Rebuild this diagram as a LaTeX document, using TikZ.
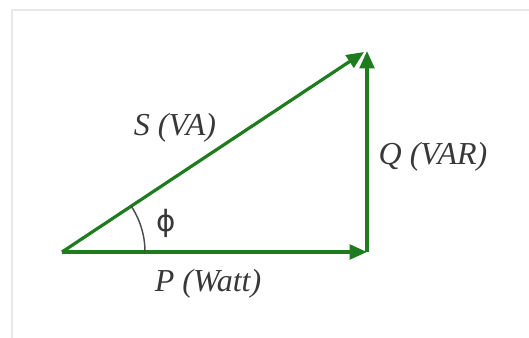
\documentclass[tikz,border=0pt]{standalone}
\usepackage{fontspec}
\setmainfont{Liberation Serif}
\newfontfamily\phifont{DejaVu Sans}
\usetikzlibrary{calc,arrows.meta,positioning}
\definecolor{vecgreen}{HTML}{1E7B1E}
\definecolor{labelgray}{HTML}{383838}
\definecolor{framegray}{HTML}{E8E8E8}
\begin{document}
\begin{tikzpicture}[
  x=0.75pt, y=0.75pt,
  vector/.style={draw=vecgreen, line width=2.4pt, -{Triangle[length=13pt, width=11pt]}},
  powerlabel/.style={font=\itshape\fontsize{24}{28}\selectfont, text=labelgray, inner sep=1pt},
  anglearc/.style={draw=labelgray!90, line width=1.1pt}
]
  \useasboundingbox (0,0) rectangle (529,338);

  % Frame
  \draw[framegray, line width=1.2pt] (12,0) -- (12,328) -- (529,328);

  % Triangle corners
  \coordinate (origin) at (62,86);
  \coordinate (pend) at (367,86);
  \coordinate (qend) at (367,287);

  % Power vectors
  \draw[vector] (origin) -- (pend);
  \draw[vector] (pend) -- (qend);
  \draw[vector] (origin) -- ($(qend)+(-3,-1)$);

  % Angle phi
  \draw[anglearc] ($(origin)+(83,0)$) arc[start angle=0, end angle=33.4, radius=83];
  \node[font=\phifont\fontsize{22}{26}\selectfont, text=labelgray] (phi) at (166,115) {ϕ};

  % Labels
  \node[powerlabel] (slabel) at (175,210) {S (VA)};
  \node[powerlabel] (qlabel) at (433,181) {Q (VAR)};
  \node[powerlabel] (plabel) at (208,54) {P (Watt)};
\end{tikzpicture}
\end{document}
